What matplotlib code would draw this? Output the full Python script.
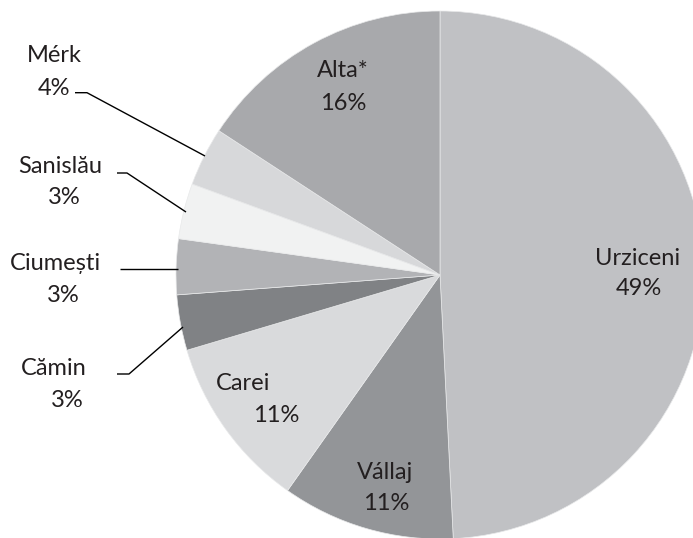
import matplotlib.pyplot as plt

# Dados (sentido horário a partir do topo)
localidades = ['Urziceni', 'Vállaj', 'Carei', 'Cămin', 'Ciumești', 'Sanislău', 'Mérk', 'Alta*']
valores = [49.2, 10.6, 10.6, 3.4, 3.4, 3.4, 3.6, 15.8]
cores = ['#c0c1c4', '#939598', '#d9dadc', '#808285', '#b2b3b6', '#f1f2f2', '#d7d8da', '#a8a9ac']

H = 538  # altura em pixels, eixo y em coordenadas de pixel


def py(y):
    return H - y


plt.rcParams['font.family'] = ['Lato', 'DejaVu Sans']

fig = plt.figure(figsize=(6.93, 5.38), dpi=100)
ax = fig.add_axes([0, 0, 1, 1])

ax.pie(valores, colors=cores, startangle=90, counterclock=False,
       center=(440, py(275)), radius=264,
       wedgeprops={'edgecolor': '#e8e9ea', 'linewidth': 0.5})

# o pie redefine os limites, então fixar depois
ax.set_xlim(0, 693)
ax.set_ylim(0, H)
ax.set_aspect('equal')
ax.axis('off')

# Posições dos rótulos: (x nome, y nome, x pct, y pct)
pos_rotulos = {
    'Alta*': (343, 77, 343.5, 110),
    'Urziceni': (637.5, 265, 638.5, 295),
    'Vállaj': (385, 479, 386, 510),
    'Carei': (243.5, 390, 276, 422),
    'Cămin': (54, 375, 67, 407),
    'Ciumești': (55.5, 270, 63.5, 302),
    'Sanislău': (60, 173, 64.5, 204),
    'Mérk': (54.5, 62, 54, 95),
}

cor_texto = '#231f20'
for nome, v in zip(localidades, valores):
    xn, yn, xp, yp = pos_rotulos[nome]
    ax.text(xn, py(yn), nome, ha='center', va='baseline', fontsize=17, color=cor_texto)
    ax.text(xp, py(yp), f'{round(v)}%', ha='center', va='baseline', fontsize=17, color=cor_texto)

# Linhas de chamada
linhas = [
    [(75, 92.7), (87, 92.7), (205, 156)],
    [(117, 173), (127, 173), (186, 212)],
    [(120, 269), (178, 269)],
    [(117, 374), (129, 374), (183, 327)],
]
for pts in linhas:
    xs = [p[0] for p in pts]
    ys = [py(p[1]) for p in pts]
    ax.plot(xs, ys, color='black', linewidth=1.0, solid_capstyle='butt')

fig.savefig('out.png', dpi=100)
